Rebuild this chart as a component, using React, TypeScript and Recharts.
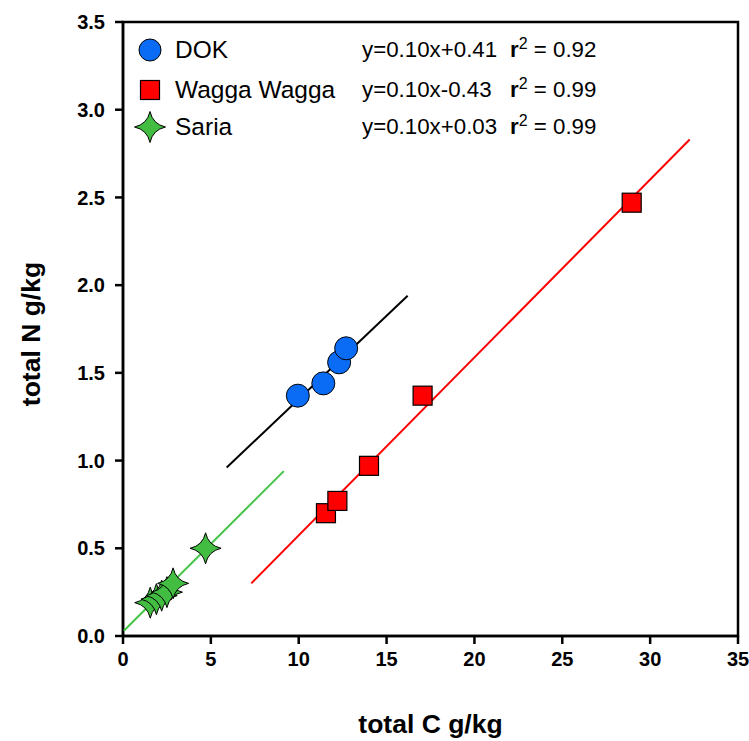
import React from "react";
import { ScatterChart, Scatter, XAxis, YAxis, ReferenceArea, Label } from "recharts";

// values
const dokC = [9.95, 11.4, 12.3, 12.7];
const dokN = [1.37, 1.44, 1.56, 1.64];
const waggaC = [11.55, 12.2, 14.0, 17.05, 28.95];
const waggaN = [0.7, 0.77, 0.97, 1.37, 2.47];
const sariaC = [1.55, 1.9, 2.2, 2.5, 2.85, 4.7];
const sariaN = [0.19, 0.21, 0.23, 0.25, 0.3, 0.5];

// regression line endpoints (as drawn)
const dokFitC = [5.9, 16.2];
const dokFitN = [0.96, 1.94];
const waggaFitC = [7.3, 32.25];
const waggaFitN = [0.3, 2.83];
const sariaFitC = [0.05, 9.15];
const sariaFitN = [0.03, 0.94];

const xTicks = [0, 5, 10, 15, 20, 25, 30, 35];
const yTicks = [0, 0.5, 1, 1.5, 2, 2.5, 3, 3.5];

const seriesNames = ["DOK", "Wagga Wagga", "Saria"];
const equations = ["y=0.10x+0.41", "y=0.10x-0.43", "y=0.10x+0.03"];
const rSquared = ["0.92", "0.99", "0.99"];

const BLUE = "#0a6cf5";
const RED = "#ff0000";
const GREEN = "#42bd42";
const GREEN_LINE = "#45c445";

const pts = (xs: number[], ys: number[]) => xs.map((x, i) => ({ x, y: ys[i] }));

const tickFont = "'Liberation Sans Narrow', 'Arial Narrow', sans-serif";
const textFont = "'Liberation Sans', Arial, Helvetica, sans-serif";

const Circle = (p: any) => (
  <circle cx={p.cx} cy={p.cy} r={11.5} fill={BLUE} stroke="#000" strokeWidth={1} />
);
const Square = (p: any) => (
  <rect x={p.cx - 9.5} y={p.cy - 9.5} width={19} height={19} fill={RED} stroke="#000" strokeWidth={1.2} />
);
const starPath = (cx: number, cy: number, R: number) => {
  const c = R * 0.18;
  return `M${cx},${cy - R} Q${cx + c},${cy - c} ${cx + R},${cy} Q${cx + c},${cy + c} ${cx},${cy + R} Q${cx - c},${cy + c} ${cx - R},${cy} Q${cx - c},${cy - c} ${cx},${cy - R} Z`;
};
const Star = (p: any) => (
  <path d={starPath(p.cx, p.cy, 15.5)} fill={GREEN} stroke="#000" strokeWidth={1} />
);
const NoDot = () => <g />;

const legendSymbols = [
  <circle cx={16} cy={16} r={11} fill={BLUE} stroke="#000" strokeWidth={1} />,
  <rect x={6.5} y={6.5} width={19} height={19} fill={RED} stroke="#000" strokeWidth={1.2} />,
  <path d={starPath(16, 16, 15.5)} fill={GREEN} stroke="#000" strokeWidth={1} />,
];
const legendTops = [50, 90, 127];

export default function App() {
  return (
    <div style={{ position: "absolute", left: 0, top: 0, width: 749, height: 741, background: "#fff" }}>
      <ScatterChart width={749} height={741} margin={{ top: 22, right: 11, left: 0, bottom: 0 }}>
        <XAxis
          type="number"
          dataKey="x"
          domain={[0, 35]}
          ticks={xTicks}
          height={105}
          allowDataOverflow
          tickSize={8}
          tickMargin={8}
          axisLine={{ stroke: "#000", strokeWidth: 2.5 }}
          tickLine={{ stroke: "#000", strokeWidth: 2.5 }}
          tick={{ fill: "#000", fontSize: 20, fontWeight: 700, fontFamily: tickFont }}
        >
          <Label
            value="total C g/kg"
            position="insideBottom"
            offset={8}
            style={{ fill: "#000", fontSize: 26.5, fontWeight: 700, fontFamily: tickFont }}
          />
        </XAxis>
        <YAxis
          type="number"
          dataKey="y"
          domain={[0, 3.5]}
          ticks={yTicks}
          width={123}
          allowDataOverflow
          tickSize={8}
          tickMargin={10}
          tickFormatter={(v: number) => v.toFixed(1)}
          axisLine={{ stroke: "#000", strokeWidth: 2.5 }}
          tickLine={{ stroke: "#000", strokeWidth: 2.5 }}
          tick={{ fill: "#000", fontSize: 20, fontWeight: 700, fontFamily: tickFont }}
        >
          <Label
            value="total N g/kg"
            angle={-90}
            position="insideLeft"
            offset={31}
            dy={5}
            style={{ textAnchor: "middle", fill: "#000", fontSize: 26.5, fontWeight: 700, fontFamily: tickFont }}
          />
        </YAxis>
        <ReferenceArea x1={0} x2={35} y1={0} y2={3.5} fill="none" stroke="#000" strokeWidth={2.5} fillOpacity={0} />
        <Scatter data={pts(dokFitC, dokFitN)} line={{ stroke: "#000", strokeWidth: 2 }} shape={NoDot} isAnimationActive={false} />
        <Scatter data={pts(waggaFitC, waggaFitN)} line={{ stroke: RED, strokeWidth: 2 }} shape={NoDot} isAnimationActive={false} />
        <Scatter data={pts(sariaFitC, sariaFitN)} line={{ stroke: GREEN_LINE, strokeWidth: 2 }} shape={NoDot} isAnimationActive={false} />
        <Scatter data={pts(dokC, dokN)} shape={Circle} isAnimationActive={false} />
        <Scatter data={pts(waggaC, waggaN)} shape={Square} isAnimationActive={false} />
        <Scatter data={pts(sariaC, sariaN)} shape={Star} isAnimationActive={false} />
      </ScatterChart>
      {seriesNames.map((name, i) => (
        <div
          key={name}
          style={{
            position: "absolute",
            left: 134,
            top: legendTops[i] - 16,
            height: 32,
            display: "flex",
            alignItems: "center",
            fontFamily: textFont,
            fontSize: 24.5,
            color: "#000",
            whiteSpace: "nowrap",
          }}
        >
          <svg width={32} height={32} style={{ flex: "none" }}>
            {legendSymbols[i]}
          </svg>
          <span style={{ position: "absolute", left: 41 }}>{name}</span>
          <span style={{ position: "absolute", left: 228, fontSize: 22.3 }}>{equations[i]}</span>
          <span style={{ position: "absolute", left: 376, fontSize: 22.3 }}>
            <b>r</b>
            <sup style={{ fontSize: 16, verticalAlign: "8px", lineHeight: 0 }}>2</sup> = {rSquared[i]}
          </span>
        </div>
      ))}
    </div>
  );
}
